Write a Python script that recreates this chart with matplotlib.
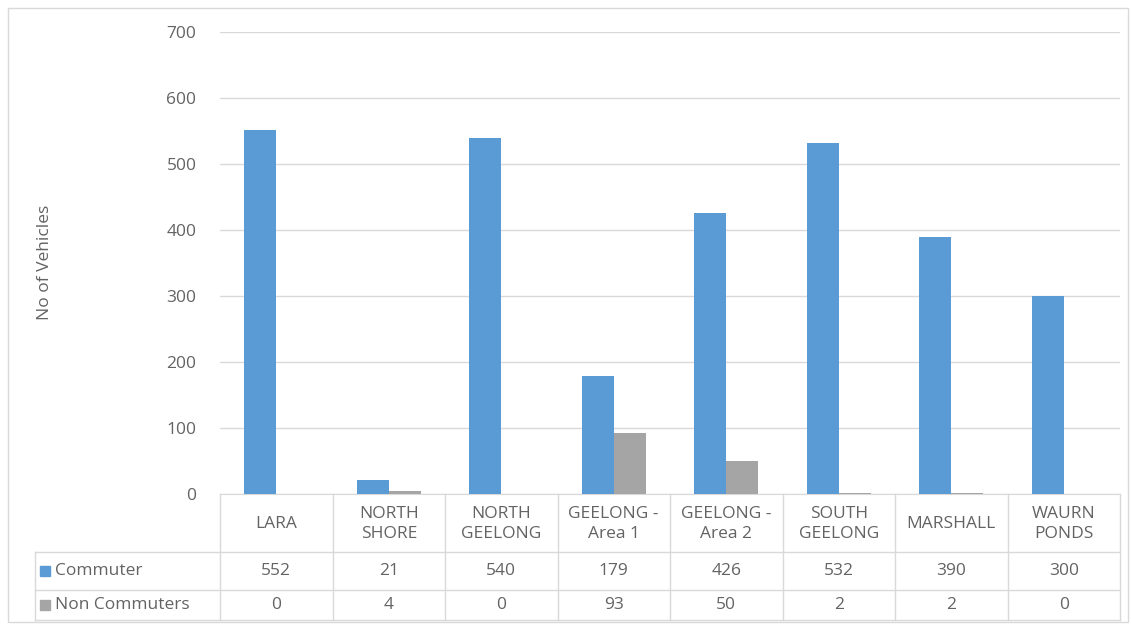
import matplotlib.pyplot as plt
from matplotlib.patches import Rectangle
from matplotlib.lines import Line2D
import numpy as np

plt.rcParams['font.family'] = ['Open Sans', 'DejaVu Sans']

categories = ['LARA', 'NORTH\nSHORE', 'NORTH\nGEELONG', 'GEELONG -\nArea 1',
              'GEELONG -\nArea 2', 'SOUTH\nGEELONG', 'MARSHALL', 'WAURN\nPONDS']
commuter = [552, 21, 540, 179, 426, 532, 390, 300]
non_commuter = [0, 4, 0, 93, 50, 2, 2, 0]
series_names = ['Commuter', 'Non Commuters']
colors = ['#5B9BD5', '#A5A5A5']

W, H = 1131, 626
fig = plt.figure(figsize=(W / 100, H / 100), dpi=100)

def fx(px):
    return px / W

def fy(py):
    return 1 - py / H

txt_col = '#636363'
grid_col = '#D9D9D9'
fs = 12.5

# outer chart border
fig.patches.append(Rectangle((fx(8), fy(622)), fx(1128) - fx(8), fy(8) - fy(622),
                             transform=fig.transFigure, fill=False, edgecolor='#D9D9D9', lw=1))

left, right, top, bottom = 220, 1120, 32, 494
ax = fig.add_axes([fx(left), fy(bottom), fx(right) - fx(left), fy(top) - fy(bottom)])

n = len(categories)
x = np.arange(n)
bw = 1 / 3.5
ax.bar(x - bw / 2, commuter, bw, color=colors[0], zorder=3)
ax.bar(x + bw / 2, non_commuter, bw, color=colors[1], zorder=3)

ax.set_xlim(-0.5, n - 0.5)
ax.set_ylim(0, 700)
ax.set_yticks(range(0, 701, 100))
ax.yaxis.grid(True, color=grid_col, lw=1, zorder=0)
ax.set_xticks([])
for s in ['top', 'right', 'left']:
    ax.spines[s].set_visible(False)
ax.spines['bottom'].set_color(grid_col)
ax.tick_params(axis='y', length=0, pad=17, labelsize=fs, labelcolor=txt_col)
fig.text(fx(45), fy(262), 'No of Vehicles', rotation=90, ha='center', va='center',
         fontsize=fs, color=txt_col)

# data table
rows_y = [494, 552, 590, 620]
col_w = (right - left) / n
lab_left = 35
line_kw = dict(color=grid_col, lw=1, transform=fig.transFigure)
for i in range(n + 1):
    xp = left + i * col_w
    fig.add_artist(Line2D([fx(xp), fx(xp)], [fy(rows_y[0]), fy(rows_y[-1])], **line_kw))
fig.add_artist(Line2D([fx(lab_left), fx(lab_left)], [fy(rows_y[1]), fy(rows_y[-1])], **line_kw))
for yp in rows_y[1:]:
    fig.add_artist(Line2D([fx(lab_left), fx(right)], [fy(yp), fy(yp)], **line_kw))

for i, c in enumerate(categories):
    cx = left + (i + 0.5) * col_w
    fig.text(fx(cx), fy((rows_y[0] + rows_y[1]) / 2 + 1), c, ha='center', va='center',
             fontsize=fs, color=txt_col, linespacing=1.25)
    fig.text(fx(cx), fy((rows_y[1] + rows_y[2]) / 2), str(commuter[i]), ha='center', va='center',
             fontsize=fs, color=txt_col)
    fig.text(fx(cx), fy((rows_y[2] + rows_y[3]) / 2), str(non_commuter[i]), ha='center', va='center',
             fontsize=fs, color=txt_col)

for k, name in enumerate(series_names):
    yc = (rows_y[k + 1] + rows_y[k + 2]) / 2
    fig.patches.append(Rectangle((fx(40), fy(yc + 5)), fx(10), fy(0) - fy(10),
                                 transform=fig.transFigure, color=colors[k]))
    fig.text(fx(55), fy(yc), name, ha='left', va='center', fontsize=fs, color=txt_col)

fig.savefig('out.png', dpi=100)
